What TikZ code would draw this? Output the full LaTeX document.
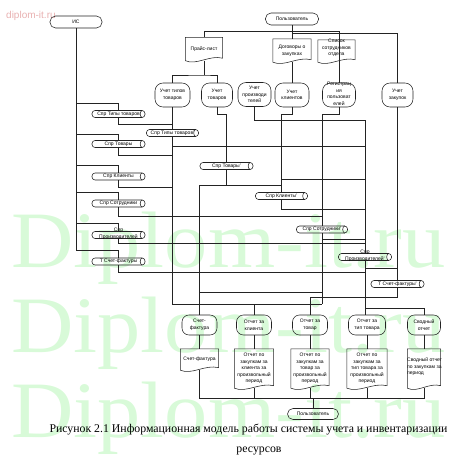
\documentclass[tikz,border=0pt]{standalone}
\usepackage{fontspec}
\usepackage{graphicx}
\setmainfont{Liberation Serif}
\setsansfont{Liberation Sans}
\usetikzlibrary{calc}
\definecolor{wm}{RGB}{216,250,216}
\definecolor{wmpink}{RGB}{232,176,176}
\definecolor{lc}{RGB}{35,35,35}
\newcommand\nf{\sffamily\fontsize{5}{6.6}\selectfont}
\newcommand\docoutline[1]{\draw[shp] (#1.north west) -- (#1.north east) -- ([yshift=2.5pt]#1.south east) .. controls ($(#1.south east)!0.35!(#1.south west)+(0,-6)$) and ($(#1.south east)!0.7!(#1.south west)+(0,5)$) .. (#1.south west) -- cycle;}
\newcommand\cylend[1]{\draw[shp] ([xshift=-3pt]#1.north east) to[out=200,in=160] ([xshift=-3pt]#1.south east);}
\tikzset{
 ln/.style={draw=lc, line width=0.55pt},
 shp/.style={draw=lc, line width=0.55pt},
 term/.style={shp, rounded corners=5.5pt, minimum width=52pt, minimum height=12pt, inner sep=0pt, font=\nf},
 proc/.style={shp, rounded corners=8pt, minimum height=24pt, inner sep=0pt, align=center, font=\nf},
 outp/.style={shp, rounded corners=7pt, minimum height=20pt, inner sep=0pt, align=center, font=\nf},
 store/.style={shp, rounded corners=3pt, minimum width=53pt, minimum height=7pt, inner sep=0pt, align=center, font=\nf},
 docbox/.style={minimum width=38pt, inner sep=0pt, align=center, font=\nf},
 txt/.style={inner sep=0pt, align=center, font=\nf},
 wmark/.style={text=wm, font=\rmfamily\fontsize{80}{80}\selectfont, anchor=base west, inner sep=0pt}
}
\begin{document}
\begin{tikzpicture}[x=1pt,y=-1pt]
\useasboundingbox (0,0) rectangle (459,460);
% watermarks
\node[wmark] (wm1) at (11,267) {\scalebox{1.08}[1]{Diplom-it.ru}};
\node[wmark] (wm2) at (11,352) {\scalebox{1.08}[1]{Diplom-it.ru}};
\node[wmark] (wm3) at (11,437) {\scalebox{1.08}[1]{Diplom-it.ru}};
\node[text=wmpink, font=\sffamily\fontsize{10}{10}\selectfont, anchor=base west, inner sep=0pt] (wm0) at (6,19) {diplom-it.ru};

% terminators
\node[term] (is) at (76,22) {ИС};
\node[term, minimum width=53pt] (usr) at (292,19) {Пользователь};
\node[term, minimum width=51pt, minimum height=11pt] (usrb) at (313,414) {Пользователь};

% top documents
\node[docbox, minimum width=37pt, minimum height=23pt] (price) at (204,49) {Прайс-лист};
\node[docbox, minimum width=38pt, minimum height=23pt] (dog) at (292,50.5) {Договоры о\\закупках};
\node[docbox, minimum width=37pt, minimum height=22pt] (spis) at (336.5,51) {};
\node[txt] (spisT) at (336.5,48) {Список\\сотрудников\\отдела};
\docoutline{price}
\docoutline{dog}
\docoutline{spis}

% process nodes
\node[proc, minimum width=35pt] (u1) at (172.5,95) {Учет типов\\товаров};
\node[proc, minimum width=31pt] (u2) at (217,95) {Учет\\товаров};
\node[proc, minimum width=33pt] (u3) at (254.5,94.5) {Учет\\производи\\телей};
\node[proc, minimum width=34pt] (u4) at (292,95) {Учет\\клиентов};
\node[proc, minimum width=33pt] (u5) at (339,95) {};
\node[txt] (u5T) at (339,94) {Регистрац\\ия\\пользоват\\елей};
\node[proc, minimum width=31pt] (u6) at (397.5,95) {Учет\\закупок};

% left stores
\node[store] (s1) at (118.5,114) {Спр Типы товаров};
\node[store] (s2) at (118.5,144) {Спр Товары};
\node[store] (s3) at (118.5,176.5) {Спр Клиенты};
\node[store] (s4) at (118.5,203.5) {Спр Сотрудники};
\node[store] (s5) at (118.5,235) {};
\node[txt] (s5T) at (118.5,234) {Спр\\Производителей};
\node[store] (s6) at (118.5,261.5) {Т Счет-фактуры};
% right stores
\node[store, minimum width=52pt] (p1) at (172.5,133) {Спр Типы товаров'};
\node[store] (p2) at (226.5,166) {Спр Товары'};
\node[store, minimum width=52pt] (p3) at (281.5,196) {Спр Клиенты'};
\node[store, minimum width=51pt] (p4) at (322,229.5) {Спр Сотрудники'};
\node[store] (p5) at (365,257) {};
\node[txt] (p5T) at (365,256) {Спр\\Производителей'};
\node[store] (p6) at (397.5,284) {Т Счет-фактуры'};
\foreach \n in {s1,s2,s3,s4,s5,s6,p1,p2,p3,p4,p5,p6} {\cylend{\n}}

% output nodes
\node[outp, minimum width=35pt] (o1) at (199.5,325) {Счет-\\фактура};
\node[outp, minimum width=35pt] (o2) at (254,325) {Отчет за\\клиента};
\node[outp, minimum width=35pt] (o3) at (310,325) {Отчет за\\товар};
\node[outp, minimum width=37pt] (o4) at (367,325) {Отчет за\\тип товара};
\node[outp, minimum width=33pt] (o5) at (424,325) {Сводный\\отчет};

% bottom documents
\node[docbox, minimum width=38pt, minimum height=21pt] (d1) at (199.5,359.5) {Счет-фактура};
\node[docbox, minimum width=39pt, minimum height=39pt] (d2) at (254,368.5) {Отчет по\\закупкам за\\клиента за\\произвольный\\период};
\node[docbox, minimum width=38pt, minimum height=39pt] (d3) at (310,368.5) {Отчет по\\закупкам за\\товар за\\произвольный\\период};
\node[docbox, minimum width=40pt, minimum height=39pt] (d4) at (367,368.5) {Отчет по\\закупкам за\\тип товара за\\произвольный\\период};
\node[docbox, minimum width=33pt, minimum height=39pt] (d5) at (424,368.5) {};
\node[txt, align=left, anchor=west] (d5T) at (407,367) {Сводный отчет\\по закупкам за\\период};
\foreach \n in {d1,d2,d3,d4,d5} {\docoutline{\n}}

% ---- connectors ----
% top
\draw[ln] (usr.south) -- (292,33) -| (u6.north);
\draw[ln] (292,33) -- (dog.north);
\draw[ln] (price.north) |- (339,31) -- (u5.north);
\coordinate (pj) at (204,75);
\draw[ln] (price.south) -- (pj);
\draw[ln] (u1.north) |- (pj) -| (u2.north);
\draw[ln] (dog.south) -- (u4.north);
% left bus
\draw[ln] (is.south) -- (76,250) -| (s6.north);
\draw[ln] (76,103) -| (s1.north);
\draw[ln] (76,134) -| (s2.north);
\draw[ln] (76,165) -| (s3.north);
\draw[ln] (76,192) -| (s4.north);
\draw[ln] (76,223) -| (s5.north);
% store outputs
\draw[ln] (s1.south) |- (172.5,124);
\draw[ln] (s2.south) |- (172.5,155);
\draw[ln] (s3.south) |- (172.5,187);
\draw[ln] (s4.south) |- (322,216);
\draw[ln] (s5.south) |- (365,243);
\draw[ln] (s6.south) |- (365,272);
% process columns
\draw[ln] (u1.south) -- (p1.north);
\draw[ln] (p1.south) |- (322,304);
\draw[ln] (o2.north) -- (254,304);
\draw[ln] (172.5,146) -- (365,146);
\draw[ln] (u2.south) -- (217,114) -| (p2.north);
\draw[ln] (p2.south) -- (226.5,185);
\draw[ln] (o1.north) |- (281.5,185);
\draw[ln] (u3.south) |- (365,120) -- (p5.north);
\draw[ln] (p5.south) -- (p5.south |- o4.north);
\draw[ln] (u4.south) -- (292,114) -| (p3.north);
\draw[ln] (p3.south) |- (365,209);
\draw[ln] (281.5,179) -- (365,179);
\draw[ln] (u5.south) -- (339,114) -| (p4.north);
\draw[ln] (p4.south) -- (322,304);
\draw[ln] (322,239) -- (365,239);
\draw[ln] (199.5,292) -- (322,292);
\draw[ln] (u6.south) -- (p6.north);
\draw[ln] (p6.south) |- (310,297) -- (o3.north);
\draw[ln] (365,268) -- (397.5,268);
\draw[ln] (365,308) -| (o5.north);
% outputs to documents
\draw[ln] (o1.south) -- (d1.north);
\draw[ln] (o2.south) -- (d2.north);
\draw[ln] (o3.south) -- (d3.north);
\draw[ln] (o4.south) -- (d4.north);
\draw[ln] (o5.south) -- (d5.north);
\coordinate (bj) at (313,398);
\draw[ln] (d1.south) |- (bj);
\draw[ln] (d5.south) |- (bj);
\draw[ln] (d2.south) -- (d2.south |- bj);
\draw[ln] (d3.south) -- (d3.south |- bj);
\draw[ln] (d4.south) -- (d4.south |- bj);
\draw[ln] (bj) -- (usrb.north);

% caption
\node[font=\rmfamily\fontsize{11.8}{14}\selectfont, anchor=base, inner sep=0pt] (cap1) at (248.5,432) {Рисунок 2.1 Информационная модель работы системы учета и инвентаризации};
\node[font=\rmfamily\fontsize{11.8}{14}\selectfont, anchor=base, inner sep=0pt] (cap2) at (259,452) {ресурсов};
\end{tikzpicture}
\end{document}
